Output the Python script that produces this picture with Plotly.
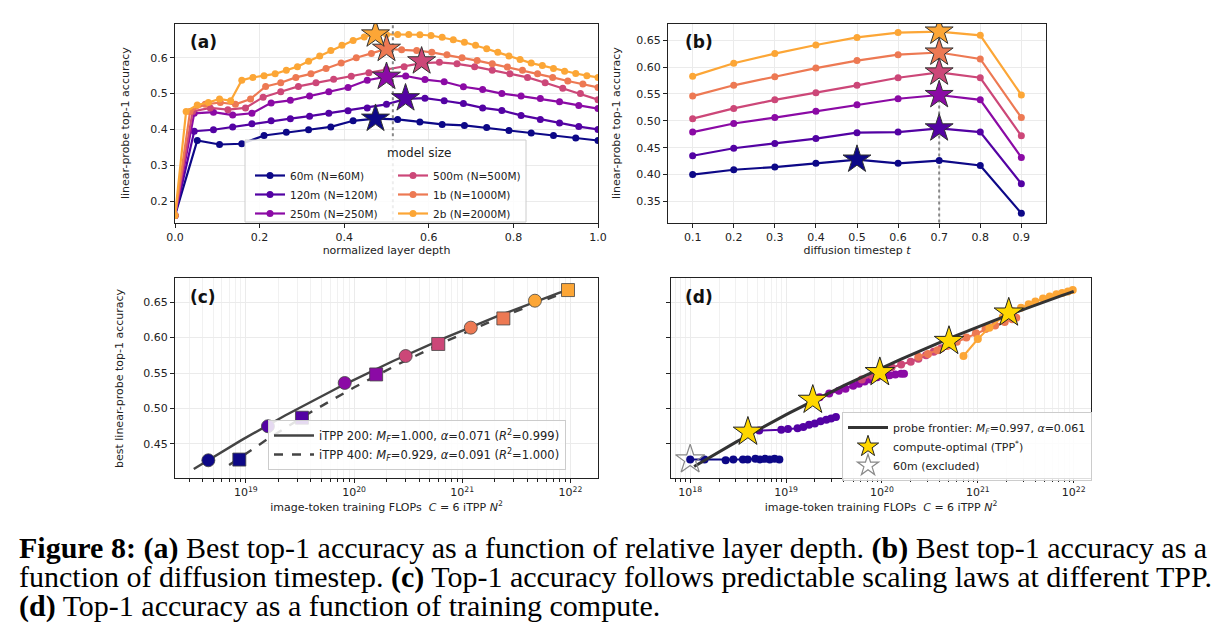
import numpy as np
import plotly.graph_objects as go

W, H = 1225, 642
OFF = 8  # page body margin
models = ["60m (N=60M)", "120m (N=120M)", "250m (N=250M)", "500m (N=500M)", "1b (N=1000M)", "2b (N=2000M)"]
colors = ["#0d0887", "#5302a3", "#8b0aa5", "#cc4778", "#ed7953", "#fca636"]

# (a) accuracy vs normalized layer depth
acc_a = [
    [0.16,0.369,0.358,0.36,0.383,0.392,0.399,0.407,0.424,0.43,0.428,0.421,0.414,0.411,0.405,0.397,0.39,0.383,0.376,0.369],
    [0.16,0.395,0.399,0.407,0.416,0.424,0.43,0.437,0.445,0.452,0.46,0.47,0.485,0.487,0.48,0.472,0.46,0.453,0.439,0.428,0.418,0.408,0.40],
    [0.16,0.445,0.448,0.44,0.445,0.474,0.481,0.493,0.505,0.517,0.537,0.547,0.549,0.539,0.533,0.519,0.511,0.50,0.493,0.486,0.477,0.467,0.458],
    [0.16,0.45,0.46,0.455,0.46,0.49,0.505,0.52,0.53,0.54,0.548,0.558,0.567,0.575,0.585,0.587,0.583,0.575,0.565,0.555,0.545,0.53,0.515,0.50,0.483],
    [0.16,0.45,0.47,0.475,0.47,0.485,0.52,0.53,0.545,0.555,0.57,0.585,0.60,0.612,0.625,0.622,0.62,0.615,0.608,0.600,0.592,0.583,0.574,0.565,0.555,0.545,0.535,0.527,0.517],
    [0.16,0.45,0.468,0.475,0.485,0.48,0.537,0.545,0.55,0.555,0.565,0.575,0.59,0.605,0.62,0.635,0.648,0.658,0.665,0.665,0.665,0.665,0.664,0.662,0.657,0.65,0.643,0.635,0.625,0.615,0.605,0.595,0.585,0.578,0.57,0.562,0.556,0.55,0.545],
]
star_a_x = [0.474, 0.545, 0.5, 0.583, 0.5, 0.474]
star_a_y = [0.43, 0.487, 0.547, 0.59, 0.625, 0.665]
best_depth = 0.515

# (b) accuracy vs diffusion timestep
timesteps = [0.1,0.2,0.3,0.4,0.5,0.6,0.7,0.8,0.9]
acc_b = [
    [0.400,0.409,0.414,0.421,0.428,0.421,0.426,0.417,0.328],
    [0.435,0.449,0.458,0.467,0.478,0.479,0.486,0.479,0.383],
    [0.479,0.495,0.506,0.518,0.530,0.541,0.548,0.539,0.432],
    [0.504,0.523,0.539,0.552,0.566,0.580,0.590,0.580,0.472],
    [0.546,0.566,0.582,0.598,0.612,0.623,0.627,0.615,0.506],
    [0.583,0.607,0.625,0.641,0.655,0.664,0.666,0.659,0.548],
]
star_b_x = [0.5, 0.7, 0.7, 0.7, 0.7, 0.7]
star_b_y = [0.428, 0.486, 0.548, 0.590, 0.627, 0.666]
best_t = 0.7

# (c) best accuracy vs compute
flops_200 = [4.5e18, 1.6e19, 8.2e19, 3.0e20, 1.2e21, 4.7e21]
acc_200 = [0.427, 0.475, 0.536, 0.574, 0.614, 0.652]
flops_400 = [8.7e18, 3.3e19, 1.6e20, 6.0e20, 2.4e21, 9.5e21]
acc_400 = [0.428, 0.487, 0.548, 0.591, 0.627, 0.667]
fit_200 = (1.000, 0.071)
fit_400 = (0.929, 0.091)
fit_200_range = (3.3e18, 1.0e22)
fit_400_range = (7.0e18, 1.1e22)

# (d) accuracy vs compute across checkpoints (log10 FLOPs)
logc_d = [
    [18.0,18.15,18.37,18.45,18.55,18.6,18.68,18.73,18.78,18.83,18.88,18.93],
    [18.6,18.72,18.95,19.02,19.12,19.18,19.24,19.3,19.36,19.42,19.47,19.52],
    [19.28,19.35,19.45,19.55,19.62,19.7,19.76,19.82,19.88,19.95,20.02,20.08,20.14,20.2,20.23],
    [19.79,19.9,20.0,20.1,20.2,20.3,20.38,20.46,20.54,20.62,20.7,20.74],
    [20.38,20.48,20.58,20.68,20.78,20.88,20.98,21.08,21.18,21.28,21.36,21.4],
    [20.85,21.0,21.12,21.26,21.36,21.45,21.53,21.6,21.68,21.75,21.82,21.88,21.94,21.99],
]
acc_d = [
    [0.428,0.428,0.427,0.428,0.428,0.428,0.429,0.428,0.429,0.428,0.429,0.428],
    [0.467,0.469,0.470,0.471,0.472,0.474,0.477,0.479,0.482,0.484,0.486,0.488],
    [0.512,0.516,0.521,0.525,0.528,0.532,0.535,0.538,0.541,0.544,0.546,0.547,0.548,0.549,0.549],
    [0.541,0.546,0.553,0.558,0.562,0.566,0.570,0.575,0.580,0.585,0.590,0.593],
    [0.573,0.577,0.582,0.588,0.594,0.600,0.606,0.612,0.617,0.622,0.626,0.628],
    [0.574,0.598,0.614,0.629,0.637,0.642,0.647,0.651,0.655,0.658,0.661,0.663,0.665,0.667],
]
opt_flops = [4.0e18, 1.9e19, 9.5e19, 5.0e20, 2.1e21]
opt_acc = [0.467, 0.512, 0.551, 0.595, 0.635]
excl_flops = [1.0e18]
excl_acc = [0.428]
frontier = (0.997, 0.061)
frontier_range = (1.1e18, 1.0e22)


def fx_(p):
    return (p - OFF) / W


def fy_(p):
    return 1 - (p - OFF) / H


def px_x(a, b):
    return [fx_(a), fx_(b)]


def px_y(top, bot):
    return [fy_(bot), fy_(top)]


def fit_curve(c, a, M, alpha, rng):
    c = np.array(c, dtype=float); a = np.array(a)
    logA = np.mean(np.log10(M - a) + alpha * np.log10(c))
    xs = np.logspace(np.log10(rng[0]), np.log10(rng[1]), 100)
    return xs, M - 10**logA * xs**(-alpha)


fig = go.Figure()
tickfont = dict(family="DejaVu Sans", size=11, color="#222")

# panel (a)
for i in range(6):
    x = np.linspace(0, 1, len(acc_a[i]))
    fig.add_trace(go.Scatter(x=x, y=acc_a[i], mode="lines+markers", name=models[i],
                             line=dict(color=colors[i], width=2.2), marker=dict(size=7, color=colors[i]),
                             legend="legend" if i < 3 else "legend4", xaxis="x", yaxis="y"))
fig.add_trace(go.Scatter(x=[best_depth, best_depth], y=[0.13, 0.70], mode="lines", showlegend=False,
                         line=dict(color="#888", dash="dot", width=2), xaxis="x", yaxis="y"))
for i in range(6):
    fig.add_trace(go.Scatter(x=[star_a_x[i]], y=[star_a_y[i]], mode="markers", showlegend=False,
                             marker=dict(symbol="star", size=21, color=colors[i], line=dict(color="#333", width=1)),
                             xaxis="x", yaxis="y"))

# panel (b)
fig.add_trace(go.Scatter(x=[best_t, best_t], y=[0.30, 0.55], mode="lines", showlegend=False,
                         line=dict(color="#888", dash="dot", width=2), xaxis="x2", yaxis="y2"))
for i in range(6):
    fig.add_trace(go.Scatter(x=timesteps, y=acc_b[i], mode="lines+markers", showlegend=False,
                             line=dict(color=colors[i], width=2.2), marker=dict(size=7, color=colors[i]),
                             xaxis="x2", yaxis="y2"))
for i in range(6):
    fig.add_trace(go.Scatter(x=[star_b_x[i]], y=[star_b_y[i]], mode="markers", showlegend=False,
                             marker=dict(symbol="star", size=21, color=colors[i], line=dict(color="#333", width=1)),
                             xaxis="x2", yaxis="y2"))

# panel (c)
xs, ys = fit_curve(flops_200, acc_200, *fit_200, fit_200_range)
fig.add_trace(go.Scatter(x=xs, y=ys, mode="lines", line=dict(color="#444", width=2.4), legend="legend2",
                         name="iTPP 200: <i>M<sub>F</sub></i>=1.000, <i>α</i>=0.071 (<i>R</i><sup>2</sup>=0.999)",
                         xaxis="x3", yaxis="y3"))
xs, ys = fit_curve(flops_400, acc_400, *fit_400, fit_400_range)
fig.add_trace(go.Scatter(x=xs, y=ys, mode="lines", line=dict(color="#444", width=2.4, dash="dash"), legend="legend2",
                         name="iTPP 400: <i>M<sub>F</sub></i>=0.929, <i>α</i>=0.091 (<i>R</i><sup>2</sup>=1.000)",
                         xaxis="x3", yaxis="y3"))
fig.add_trace(go.Scatter(x=flops_200, y=acc_200, mode="markers", showlegend=False,
                         marker=dict(symbol="circle", size=13, color=colors, line=dict(color="#444", width=0.8)),
                         xaxis="x3", yaxis="y3"))
fig.add_trace(go.Scatter(x=flops_400, y=acc_400, mode="markers", showlegend=False,
                         marker=dict(symbol="square", size=13, color=colors, line=dict(color="#444", width=0.8)),
                         xaxis="x3", yaxis="y3"))

# panel (d)
for i in range(6):
    fig.add_trace(go.Scatter(x=10**np.array(logc_d[i]), y=acc_d[i], mode="lines+markers", showlegend=False,
                             line=dict(color=colors[i], width=2), marker=dict(size=8, color=colors[i]),
                             xaxis="x4", yaxis="y4"))
fx, fy = fit_curve(opt_flops, opt_acc, *frontier, frontier_range)
fig.add_trace(go.Scatter(x=fx, y=fy, mode="lines", line=dict(color="#333", width=3), legend="legend3",
                         name="probe frontier: <i>M<sub>F</sub></i>=0.997, <i>α</i>=0.061", xaxis="x4", yaxis="y4"))
fig.add_trace(go.Scatter(x=opt_flops, y=opt_acc, mode="markers", legend="legend3",
                         name="compute-optimal (TPP<sup>*</sup>)",
                         marker=dict(symbol="star", size=22, color="#ffd700", line=dict(color="#222", width=1)),
                         xaxis="x4", yaxis="y4"))
fig.add_trace(go.Scatter(x=excl_flops, y=excl_acc, mode="markers", legend="legend3", name="60m (excluded)",
                         marker=dict(symbol="star-open", size=22, color="#888", line=dict(width=1.2)),
                         xaxis="x4", yaxis="y4"))

axbase = dict(showline=True, linecolor="#222", linewidth=1.2, mirror=True, ticks="outside", ticklen=4,
              tickcolor="#222", showgrid=True, gridcolor="#ebebeb", zeroline=False, tickfont=tickfont,
              title_font=dict(family="DejaVu Sans", size=11, color="#222"))

minor_log = dict(ticks="outside", ticklen=2.5, tickcolor="#222", showgrid=True, gridcolor="#f1f1f1",
                 tickvals=[float(m) * 10.0**k for k in range(17, 23) for m in range(2, 10)])

xt3 = [1e19, 1e20, 1e21, 1e22]
xt4 = [1e18, 1e19, 1e20, 1e21, 1e22]
legbase = dict(xref="container", yref="container", xanchor="left", yanchor="top",
               bgcolor="rgba(255,255,255,0.85)", bordercolor="#ccc", borderwidth=1)
legsmall = dict(xref="container", yref="container", xanchor="left", yanchor="top",
                bgcolor="rgba(0,0,0,0)", borderwidth=0, tracegroupgap=0, itemwidth=30,
                font=dict(family="DejaVu Sans", size=10.5, color="#222"))
xtitle = "image-token training FLOPs  <i>C</i> = 6 iTPP <i>N</i><sup>2</sup>"
fig.update_layout(
    width=W, height=H, margin=dict(l=0, r=0, t=0, b=0, autoexpand=False),
    paper_bgcolor="white", plot_bgcolor="white",
    xaxis=dict(axbase, domain=px_x(175, 598), range=[0, 1], dtick=0.2, tickformat=".1f", anchor="y",
               title=dict(text="normalized layer depth", standoff=2)),
    yaxis=dict(axbase, domain=px_y(24, 223), range=[0.139, 0.694], tickvals=[0.2, 0.3, 0.4, 0.5, 0.6], anchor="x"),
    xaxis2=dict(axbase, domain=px_x(668, 1046), range=[0.04, 0.96], tickvals=timesteps, anchor="y2",
                title=dict(text="diffusion timestep <i>t</i>", standoff=2)),
    yaxis2=dict(axbase, domain=px_y(24, 223), range=[0.31, 0.68], dtick=0.05, tickformat=".2f", anchor="x2"),
    xaxis3=dict(axbase, type="log", domain=px_x(175, 598), range=[18.345, 22.255], anchor="y3",
                tickvals=xt3, ticktext=[f"10<sup>{int(round(np.log10(v)))}</sup>" for v in xt3],
                minor=minor_log, title=dict(text=xtitle, standoff=2)),
    yaxis3=dict(axbase, domain=px_y(278, 478), range=[0.402, 0.684], dtick=0.05, tickformat=".2f", anchor="x3"),
    xaxis4=dict(axbase, type="log", domain=px_x(671, 1091), range=[17.8, 22.18], anchor="y4",
                tickvals=xt4, ticktext=[f"10<sup>{int(round(np.log10(v)))}</sup>" for v in xt4],
                minor=minor_log, title=dict(text=xtitle, standoff=2)),
    yaxis4=dict(axbase, domain=px_y(278, 478), range=[0.402, 0.684], dtick=0.05, showticklabels=False, anchor="x4"),
    legend=dict(legsmall, x=fx_(250), y=fy_(161)),
    legend4=dict(legsmall, x=fx_(393), y=fy_(161)),
    legend2=dict(legbase, x=fx_(268), y=fy_(420),
                 font=dict(family="DejaVu Sans", size=11.5, color="#222"), itemwidth=40),
    legend3=dict(legbase, x=fx_(842), y=fy_(412),
                 font=dict(family="DejaVu Sans", size=11, color="#222"), itemwidth=40),
    showlegend=True,
)

# legend box + title for panel (a)
fig.add_shape(type="rect", xref="paper", yref="paper", x0=fx_(245), x1=fx_(526), y0=fy_(222), y1=fy_(140),
              line=dict(color="#ccc", width=1), fillcolor="rgba(255,255,255,0.85)", layer="above")
fig.add_annotation(text="model size", x=fx_(385), y=fy_(144), xref="paper", yref="paper", showarrow=False,
                   font=dict(family="DejaVu Sans", size=12, color="#222"))

ytitles = [("linear-probe top-1 accuracy", 126, 123), ("linear-probe top-1 accuracy", 617, 123),
           ("best linear-probe top-1 accuracy", 120, 378)]
for t, x, y in ytitles:
    fig.add_annotation(text=t, x=fx_(x), y=fy_(y), xref="paper", yref="paper", showarrow=False, textangle=-90,
                       xanchor="center", yanchor="middle",
                       font=dict(family="DejaVu Sans", size=11, color="#222"))

labels = [("(a)", 188, 42), ("(b)", 683, 42), ("(c)", 188, 297), ("(d)", 683, 297)]
for t, x, y in labels:
    fig.add_annotation(text=f"<b>{t}</b>", x=fx_(x), y=fy_(y), xref="paper", yref="paper", showarrow=False,
                       xanchor="left", yanchor="middle", font=dict(family="DejaVu Sans", size=17, color="#111"))

caption = [
    "<b>Figure 8:</b> <b>(a)</b> Best top-1 accuracy as a function of relative layer depth. <b>(b)</b> Best top-1 accuracy as a",
    "function of diffusion timestep. <b>(c)</b> Top-1 accuracy follows predictable scaling laws at different TPP.",
    "<b>(d)</b> Top-1 accuracy as a function of training compute.",
]
for i, line in enumerate(caption):
    fig.add_annotation(text=line, x=fx_(17), y=fy_(548 + 29 * i), xref="paper", yref="paper",
                       showarrow=False, xanchor="left", yanchor="middle",
                       font=dict(family="Liberation Serif", size=30, color="#000"))

fig.write_html("out.html")
